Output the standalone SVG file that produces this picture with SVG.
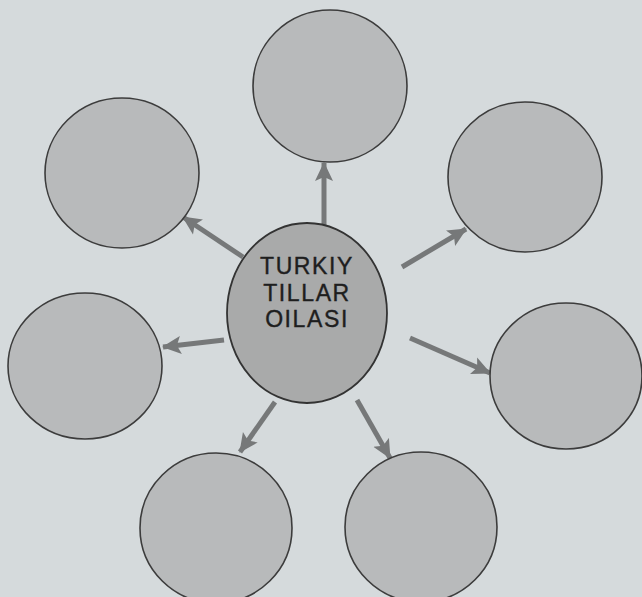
<svg xmlns="http://www.w3.org/2000/svg" width="642" height="597" viewBox="0 0 642 597">
<style>
.bg{fill:#d5dadc}
.leaf{fill:#b8babb;stroke:#3c3c3c;stroke-width:1.6}
.hub{fill:#a9aaaa;stroke:#333;stroke-width:1.8}
.lbl{font-family:"Liberation Sans",Arial,sans-serif;font-size:23px;fill:#1e1e1e;stroke:#1e1e1e;stroke-width:0.4;text-anchor:middle;letter-spacing:1.6px}
.arr{stroke:#767879;stroke-width:5;fill:none;marker-end:url(#ah)}
</style>
<defs>
<marker id="ah" markerUnits="userSpaceOnUse" markerWidth="20" markerHeight="20" viewBox="0 0 20 20" refX="18" refY="10" orient="auto">
<path d="M0,1 L19,10 L0,19 L4,10 Z" fill="#767879"/>
</marker>
</defs>
<rect class="bg" x="0" y="0" width="642" height="597"/>
<g id="connectors">
<line class="arr" x1="324" y1="226" x2="324" y2="163"/>
<line class="arr" x1="243" y1="257" x2="183" y2="217"/>
<line class="arr" x1="402" y1="267" x2="466" y2="229"/>
<line class="arr" x1="224" y1="340" x2="163" y2="347"/>
<line class="arr" x1="410" y1="338" x2="490" y2="373"/>
<line class="arr" x1="275" y1="402" x2="240" y2="452"/>
<line class="arr" x1="357" y1="400" x2="390" y2="458"/>
</g>
<g id="node-top"><ellipse class="leaf" cx="330" cy="86" rx="77" ry="76"/></g>
<g id="node-topleft"><ellipse class="leaf" cx="122" cy="173" rx="77" ry="75"/></g>
<g id="node-topright"><ellipse class="leaf" cx="525" cy="177" rx="77" ry="75"/></g>
<g id="node-left"><ellipse class="leaf" cx="85" cy="366" rx="77" ry="73"/></g>
<g id="node-right"><ellipse class="leaf" cx="566" cy="376" rx="76" ry="73"/></g>
<g id="node-bottomleft"><ellipse class="leaf" cx="216" cy="528" rx="76" ry="75"/></g>
<g id="node-bottomright"><ellipse class="leaf" cx="421" cy="527" rx="76" ry="75"/></g>
<g id="node-center">
<ellipse class="hub" cx="307" cy="313" rx="80" ry="90"/>
<text class="lbl" x="307" y="274">TURKIY</text>
<text class="lbl" x="307" y="301">TILLAR</text>
<text class="lbl" x="307" y="327">OILASI</text>
</g>
</svg>
